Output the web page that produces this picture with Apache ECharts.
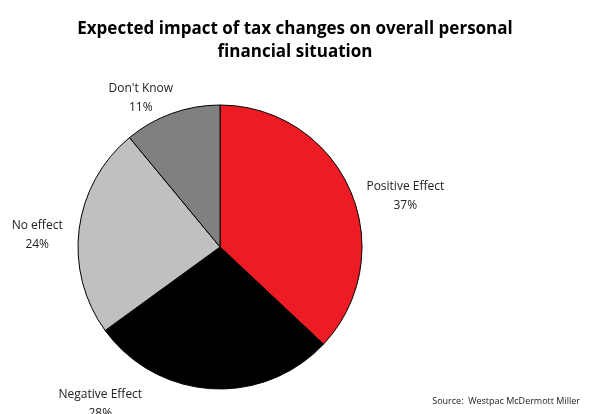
<!DOCTYPE html>
<html>
<head>
<meta charset="utf-8">
<script src="https://cdn.jsdelivr.net/npm/echarts@6/dist/echarts.min.js"></script>
<style>
  html, body { margin: 0; padding: 0; background: #fff; }
  #chart { width: 590px; height: 414px; }
</style>
</head>
<body>
<div id="chart"></div>
<script>
// data
var categories = ['Positive Effect', 'Negative Effect', 'No effect', "Don't Know"];
var shares = [37, 28, 24, 11];
var sliceColors = ['#ed1c24', '#000000', '#c0c0c0', '#808080'];

var pieData = [];
for (var i = 0; i < categories.length; i++) {
    pieData.push({
        name: categories[i],
        value: shares[i],
        itemStyle: { color: sliceColors[i] }
    });
}

// label nudges (Excel "best fit" placement), px
var nudgeX = [39, -105, -25, -22];
var nudgeY = [10, 3, 7, -4];

var chart = echarts.init(document.getElementById('chart'));
chart.setOption({
    animation: false,
    title: {
        text: 'Expected impact of tax changes on overall personal\nfinancial situation',
        left: 'center',
        top: 13,
        textStyle: {
            fontFamily: 'Open Sans',
            fontWeight: 'bold',
            fontSize: 17,
            lineHeight: 23,
            color: '#000'
        }
    },
    graphic: [{
        type: 'text',
        right: 10,
        bottom: 8,
        style: {
            text: 'Source:  Westpac McDermott Miller',
            font: '9px "Open Sans"',
            fill: '#222'
        }
    }],
    series: [{
        type: 'pie',
        center: [220, 247],
        radius: 142,
        startAngle: 90,
        clockwise: true,
        avoidLabelOverlap: false,
        itemStyle: { borderColor: '#000', borderWidth: 1 },
        label: {
            show: true,
            position: 'outside',
            formatter: '{b}\n{c}%',
            fontFamily: 'Open Sans',
            fontSize: 12,
            lineHeight: 19,
            color: '#222'
        },
        labelLine: { show: false, length: 12, length2: 0 },
        labelLayout: function (p) {
            return { align: 'center', dx: nudgeX[p.dataIndex], dy: nudgeY[p.dataIndex] };
        },
        data: pieData
    }]
});
</script>
</body>
</html>
